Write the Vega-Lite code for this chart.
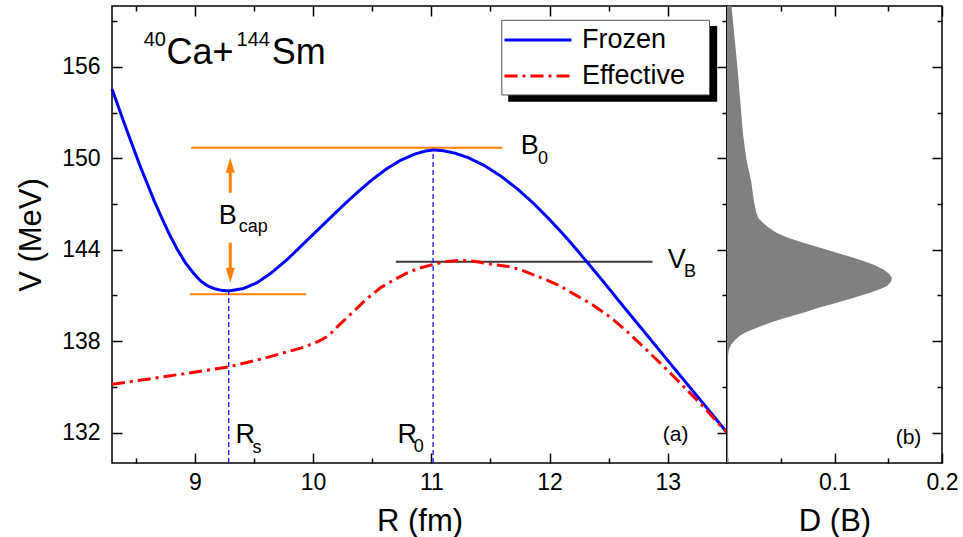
{
  "$schema": "https://vega.github.io/schema/vega-lite/v6.json",
  "background": "white",
  "padding": {"left": 14, "top": 2, "right": 5, "bottom": 5},
  "spacing": 0,
  "bounds": "flush",
  "config": {
    "font": "Liberation Sans",
    "view": {"stroke": "black", "strokeWidth": 1.5},
    "axis": {"domain": false, "grid": false, "minExtent": 0, "labelFont": "Liberation Sans", "labelFontSize": 23, "labelColor": "black", "titleFont": "Liberation Sans", "titleFontSize": 31, "titleFontWeight": "normal", "titleColor": "black", "tickColor": "black", "tickWidth": 1.5, "tickSize": 10, "offset": -10, "labelPadding": 12, "labelFlush": false, "labelOverlap": false, "labelBound": false},
    "text": {"font": "Liberation Sans"}
  },
  "datasets": {
    "curves": [
      {"series": "Frozen", "R": 8.30, "V": 154.55}, {"series": "Frozen", "R": 8.36, "V": 153.25}, {"series": "Frozen", "R": 8.42, "V": 151.95}, {"series": "Frozen", "R": 8.48, "V": 150.7}, {"series": "Frozen", "R": 8.54, "V": 149.45}, {"series": "Frozen", "R": 8.60, "V": 148.3}, {"series": "Frozen", "R": 8.66, "V": 147.15}, {"series": "Frozen", "R": 8.72, "V": 146.1}, {"series": "Frozen", "R": 8.78, "V": 145.1}, {"series": "Frozen", "R": 8.85, "V": 144.05}, {"series": "Frozen", "R": 8.92, "V": 143.15}, {"series": "Frozen", "R": 8.99, "V": 142.45}, {"series": "Frozen", "R": 9.05, "V": 141.95}, {"series": "Frozen", "R": 9.11, "V": 141.62}, {"series": "Frozen", "R": 9.17, "V": 141.43}, {"series": "Frozen", "R": 9.23, "V": 141.33}, {"series": "Frozen", "R": 9.29, "V": 141.3}, {"series": "Frozen", "R": 9.41, "V": 141.45}, {"series": "Frozen", "R": 9.53, "V": 141.85}, {"series": "Frozen", "R": 9.65, "V": 142.5}, {"series": "Frozen", "R": 9.78, "V": 143.35}, {"series": "Frozen", "R": 9.90, "V": 144.25}, {"series": "Frozen", "R": 10.02, "V": 145.15}, {"series": "Frozen", "R": 10.14, "V": 146.05}, {"series": "Frozen", "R": 10.26, "V": 146.95}, {"series": "Frozen", "R": 10.38, "V": 147.8}, {"series": "Frozen", "R": 10.50, "V": 148.6}, {"series": "Frozen", "R": 10.62, "V": 149.3}, {"series": "Frozen", "R": 10.74, "V": 149.87}, {"series": "Frozen", "R": 10.86, "V": 150.28}, {"series": "Frozen", "R": 10.95, "V": 150.48}, {"series": "Frozen", "R": 11.02, "V": 150.55}, {"series": "Frozen", "R": 11.10, "V": 150.5}, {"series": "Frozen", "R": 11.20, "V": 150.34}, {"series": "Frozen", "R": 11.31, "V": 150.05}, {"series": "Frozen", "R": 11.45, "V": 149.52}, {"series": "Frozen", "R": 11.59, "V": 148.82}, {"series": "Frozen", "R": 11.73, "V": 147.98}, {"series": "Frozen", "R": 11.87, "V": 147.0}, {"series": "Frozen", "R": 12.01, "V": 145.9}, {"series": "Frozen", "R": 12.15, "V": 144.72}, {"series": "Frozen", "R": 12.30, "V": 143.35}, {"series": "Frozen", "R": 12.45, "V": 141.95}, {"series": "Frozen", "R": 12.58, "V": 140.7}, {"series": "Frozen", "R": 12.72, "V": 139.37}, {"series": "Frozen", "R": 12.86, "V": 138.05}, {"series": "Frozen", "R": 13.00, "V": 136.72}, {"series": "Frozen", "R": 13.14, "V": 135.4}, {"series": "Frozen", "R": 13.30, "V": 133.9}, {"series": "Frozen", "R": 13.42, "V": 132.76}, {"series": "Frozen", "R": 13.50, "V": 132.0},
      {"series": "Effective", "R": 8.30, "V": 135.17}, {"series": "Effective", "R": 8.60, "V": 135.5}, {"series": "Effective", "R": 8.90, "V": 135.85}, {"series": "Effective", "R": 9.29, "V": 136.32}, {"series": "Effective", "R": 9.60, "V": 136.9}, {"series": "Effective", "R": 9.92, "V": 137.6}, {"series": "Effective", "R": 10.05, "V": 138.0}, {"series": "Effective", "R": 10.13, "V": 138.35}, {"series": "Effective", "R": 10.20, "V": 138.9}, {"series": "Effective", "R": 10.35, "V": 140.0}, {"series": "Effective", "R": 10.45, "V": 140.75}, {"series": "Effective", "R": 10.57, "V": 141.5}, {"series": "Effective", "R": 10.69, "V": 142.05}, {"series": "Effective", "R": 10.80, "V": 142.5}, {"series": "Effective", "R": 10.91, "V": 142.82}, {"series": "Effective", "R": 11.02, "V": 143.04}, {"series": "Effective", "R": 11.12, "V": 143.22}, {"series": "Effective", "R": 11.25, "V": 143.3}, {"series": "Effective", "R": 11.36, "V": 143.25}, {"series": "Effective", "R": 11.48, "V": 143.08}, {"series": "Effective", "R": 11.65, "V": 142.9}, {"series": "Effective", "R": 11.75, "V": 142.7}, {"series": "Effective", "R": 11.93, "V": 142.16}, {"series": "Effective", "R": 12.08, "V": 141.65}, {"series": "Effective", "R": 12.21, "V": 141.07}, {"series": "Effective", "R": 12.36, "V": 140.4}, {"series": "Effective", "R": 12.52, "V": 139.54}, {"series": "Effective", "R": 12.66, "V": 138.6}, {"series": "Effective", "R": 12.80, "V": 137.57}, {"series": "Effective", "R": 12.93, "V": 136.6}, {"series": "Effective", "R": 13.06, "V": 135.6}, {"series": "Effective", "R": 13.18, "V": 134.65}, {"series": "Effective", "R": 13.31, "V": 133.63}, {"series": "Effective", "R": 13.42, "V": 132.65}, {"series": "Effective", "R": 13.50, "V": 132.0}
    ],
    "db": [
      {"V": 130.0, "D": 0.001}, {"V": 137.0, "D": 0.001}, {"V": 137.4, "D": 0.0015}, {"V": 137.8, "D": 0.004}, {"V": 138.1, "D": 0.008}, {"V": 138.35, "D": 0.012}, {"V": 138.6, "D": 0.018}, {"V": 138.8, "D": 0.025}, {"V": 139.0, "D": 0.032}, {"V": 139.2, "D": 0.04}, {"V": 139.5, "D": 0.053}, {"V": 139.87, "D": 0.071}, {"V": 140.2, "D": 0.086}, {"V": 140.52, "D": 0.102}, {"V": 140.85, "D": 0.118}, {"V": 141.18, "D": 0.133}, {"V": 141.4, "D": 0.142}, {"V": 141.62, "D": 0.149}, {"V": 141.9, "D": 0.1525}, {"V": 142.15, "D": 0.1535}, {"V": 142.4, "D": 0.151}, {"V": 142.71, "D": 0.1455}, {"V": 143.0, "D": 0.137}, {"V": 143.26, "D": 0.127}, {"V": 143.55, "D": 0.114}, {"V": 143.8, "D": 0.102}, {"V": 144.15, "D": 0.086}, {"V": 144.46, "D": 0.071}, {"V": 144.8, "D": 0.056}, {"V": 145.12, "D": 0.046}, {"V": 145.45, "D": 0.039}, {"V": 145.78, "D": 0.033}, {"V": 146.1, "D": 0.029}, {"V": 146.5, "D": 0.027}, {"V": 147.2, "D": 0.025}, {"V": 148.5, "D": 0.0225}, {"V": 149.94, "D": 0.018}, {"V": 151.58, "D": 0.0149}, {"V": 156.0, "D": 0.0097}, {"V": 160.0, "D": 0.0042}
    ],
    "legendShadow": [{"R": 11.65, "R2": 13.417, "V": 153.72, "V2": 158.69}],
    "legendBox": [{"R": 11.596, "R2": 13.352, "V": 154.16, "V2": 159.06}],
    "capLines": [{"R": 8.97, "R2": 11.6, "V": 150.7}, {"R": 8.96, "R2": 9.94, "V": 141.07}],
    "vbLine": [{"R": 10.7, "R2": 12.87, "V": 143.21}],
    "drops": [{"R": 9.287, "V": 130.0, "V2": 141.3}, {"R": 11.015, "V": 130.0, "V2": 150.55}],
    "shafts": [{"R": 9.3, "V": 147.74, "V2": 149.55}, {"R": 9.3, "V": 142.33, "V2": 144.46}],
    "heads": [{"R": 9.3, "V": 149.55, "dir": "up"}, {"R": 9.3, "V": 142.33, "dir": "down"}],
    "bigLetters": [{"R": 9.203, "V": 145.67, "t": "B"}, {"R": 11.757, "V": 150.26, "t": "B"}, {"R": 12.999, "V": 142.82, "t": "V"}, {"R": 9.344, "V": 131.33, "t": "R"}, {"R": 10.713, "V": 131.33, "t": "R"}],
    "subLetters": [{"R": 9.372, "V": 145.16, "t": "cap"}, {"R": 11.901, "V": 149.63, "t": "0"}, {"R": 13.137, "V": 142.23, "t": "B"}, {"R": 9.488, "V": 130.68, "t": "s"}, {"R": 10.851, "V": 130.74, "t": "0"}],
    "panelA": [{"R": 12.957, "V": 131.44, "t": "(a)"}],
    "titleBig": [{"R": 8.76, "V": 156.17, "t": "Ca+"}, {"R": 9.65, "V": 156.17, "t": "Sm"}],
    "titleSup": [{"R": 8.568, "V": 157.37, "t": "40"}, {"R": 9.353, "V": 157.37, "t": "144"}],
    "panelB": [{"D": 0.1569, "V": 131.25, "t": "(b)"}]
  },
  "resolve": {"scale": {"x": "independent", "y": "independent", "color": "independent", "strokeDash": "independent", "shape": "independent"}},
  "hconcat": [
    {
      "width": 615,
      "height": 457,
      "encoding": {
        "x": {"field": "R", "type": "quantitative", "scale": {"domain": [8.3, 13.5], "nice": false, "zero": false}, "axis": null},
        "y": {"field": "V", "type": "quantitative", "scale": {"domain": [130, 160], "nice": false, "zero": false}, "axis": null}
      },
      "layer": [
        {"data": {"name": "legendShadow"}, "mark": {"type": "rect", "color": "black"}, "encoding": {"x2": {"field": "R2"}, "y2": {"field": "V2"}}},
        {"data": {"name": "legendBox"}, "mark": {"type": "rect", "fill": "white", "stroke": "#555555", "strokeWidth": 1}, "encoding": {"x2": {"field": "R2"}, "y2": {"field": "V2"}}},
        {"data": {"name": "capLines"}, "mark": {"type": "rule", "color": "#ff7f00", "strokeWidth": 2}, "encoding": {"x2": {"field": "R2"}}},
        {"data": {"name": "vbLine"}, "mark": {"type": "rule", "color": "#3a3a3a", "strokeWidth": 2}, "encoding": {"x2": {"field": "R2"}}},
        {"data": {"name": "drops"}, "mark": {"type": "rule", "color": "#0000ff", "strokeWidth": 1.2, "strokeDash": [5, 3]}, "encoding": {"y2": {"field": "V2"}}},
        {"data": {"name": "shafts"}, "mark": {"type": "rule", "color": "#ff7f00", "strokeWidth": 3}, "encoding": {"y2": {"field": "V2"}}},
        {"data": {"name": "heads"}, "mark": {"type": "point", "filled": true, "color": "#ff7f00", "size": 225, "opacity": 1}, "encoding": {"shape": {"field": "dir", "type": "nominal", "scale": {"domain": ["up", "down"], "range": ["M0,-1L0.6,1L-0.6,1Z", "M0,1L0.6,-1L-0.6,-1Z"]}, "legend": null}}},
        {
          "data": {"name": "curves"},
          "mark": {"type": "line", "strokeWidth": 3},
          "encoding": {
            "x": {"field": "R", "type": "quantitative", "scale": {"domain": [8.3, 13.5], "nice": false, "zero": false},
              "axis": {"orient": "bottom", "title": "R (fm)", "values": [9, 10, 11, 12, 13], "format": "d", "labelPadding": 8, "titlePadding": 12}},
            "y": {"field": "V", "type": "quantitative", "scale": {"domain": [130, 160], "nice": false, "zero": false},
              "axis": {"orient": "left", "title": "V (MeV)", "values": [132, 138, 144, 150, 156], "format": "d", "titlePadding": 14}},
            "color": {"field": "series", "type": "nominal", "scale": {"domain": ["Frozen", "Effective"], "range": ["#0000ff", "#ff0000"]},
              "legend": {"orient": "none", "legendX": 391, "legendY": 19, "title": null, "symbolType": "stroke", "symbolSize": 4489, "symbolStrokeWidth": 3, "clipHeight": 30, "rowPadding": 6, "padding": 0, "labelFontSize": 27, "labelFont": "Liberation Sans", "labelColor": "black", "labelOffset": 9, "labelLimit": 300}},
            "strokeDash": {"field": "series", "type": "nominal", "scale": {"domain": ["Frozen", "Effective"], "range": [[1, 0], [13, 5, 3, 5]]},
              "legend": {"orient": "none", "legendX": 391, "legendY": 19, "title": null, "symbolType": "stroke", "symbolSize": 4489, "symbolStrokeWidth": 3, "clipHeight": 30, "rowPadding": 6, "padding": 0, "labelFontSize": 27, "labelFont": "Liberation Sans", "labelColor": "black", "labelOffset": 9, "labelLimit": 300}}
          }
        },
        {"data": {"name": "bigLetters"}, "mark": {"type": "text", "fontSize": 27, "align": "left", "baseline": "alphabetic", "color": "black"}, "encoding": {"text": {"field": "t"}}},
        {"data": {"name": "subLetters"}, "mark": {"type": "text", "fontSize": 18, "align": "left", "baseline": "alphabetic", "color": "black"}, "encoding": {"text": {"field": "t"}}},
        {"data": {"name": "panelA"}, "mark": {"type": "text", "fontSize": 21, "align": "left", "baseline": "alphabetic", "color": "black"}, "encoding": {"text": {"field": "t"}}},
        {"data": {"name": "titleBig"}, "mark": {"type": "text", "fontSize": 36, "align": "left", "baseline": "alphabetic", "color": "black"}, "encoding": {"text": {"field": "t"}}},
        {"data": {"name": "titleSup"}, "mark": {"type": "text", "fontSize": 20, "align": "left", "baseline": "alphabetic", "color": "black"}, "encoding": {"text": {"field": "t"}}},
        {
          "data": {"name": "curves"},
          "mark": {"type": "point", "opacity": 0},
          "encoding": {
            "x": {"field": "R", "type": "quantitative", "scale": {"domain": [8.3, 13.5], "nice": false, "zero": false},
              "axis": {"orient": "top", "title": null, "labels": false, "values": [9, 10, 11, 12, 13]}},
            "y": {"field": "V", "type": "quantitative", "scale": {"domain": [130, 160], "nice": false, "zero": false},
              "axis": {"orient": "right", "title": null, "labels": false, "values": [132, 138, 144, 150, 156]}}
          }
        },
        {
          "data": {"name": "curves"},
          "mark": {"type": "point", "opacity": 0},
          "encoding": {
            "x": {"field": "R", "type": "quantitative", "scale": {"domain": [8.3, 13.5], "nice": false, "zero": false},
              "axis": {"orient": "bottom", "title": null, "labels": false, "tickSize": 5, "offset": -5, "values": [8.5, 9.5, 10.5, 11.5, 12.5, 13.5]}},
            "y": {"field": "V", "type": "quantitative", "scale": {"domain": [130, 160], "nice": false, "zero": false},
              "axis": {"orient": "left", "title": null, "labels": false, "tickSize": 5, "offset": -5, "values": [135, 141, 147, 153, 159]}}
          }
        },
        {
          "data": {"name": "curves"},
          "mark": {"type": "point", "opacity": 0},
          "encoding": {
            "x": {"field": "R", "type": "quantitative", "scale": {"domain": [8.3, 13.5], "nice": false, "zero": false},
              "axis": {"orient": "top", "title": null, "labels": false, "tickSize": 5, "offset": -5, "values": [8.5, 9.5, 10.5, 11.5, 12.5, 13.5]}},
            "y": {"field": "V", "type": "quantitative", "scale": {"domain": [130, 160], "nice": false, "zero": false},
              "axis": {"orient": "right", "title": null, "labels": false, "tickSize": 5, "offset": -5, "values": [135, 141, 147, 153, 159]}}
          }
        }
      ],
      "resolve": {"axis": {"x": "independent", "y": "independent"}}
    },
    {
      "width": 215,
      "height": 457,
      "encoding": {
        "x": {"field": "D", "type": "quantitative", "scale": {"domain": [0, 0.2], "nice": false, "zero": false}, "axis": null},
        "y": {"field": "V", "type": "quantitative", "scale": {"domain": [130, 160], "nice": false, "zero": false}, "axis": null}
      },
      "layer": [
        {
          "data": {"name": "db"},
          "mark": {"type": "area", "orient": "horizontal", "color": "#808080"},
          "encoding": {
            "x": {"field": "D", "type": "quantitative", "scale": {"domain": [0, 0.2], "nice": false, "zero": false},
              "axis": {"orient": "bottom", "title": "D (B)", "values": [0.1, 0.2], "format": ".1f", "labelPadding": 8, "titlePadding": 12}},
            "y": {"field": "V", "type": "quantitative", "scale": {"domain": [130, 160], "nice": false, "zero": false},
              "axis": {"orient": "right", "title": null, "labels": false, "values": [132, 138, 144, 150, 156]}}
          }
        },
        {"data": {"name": "panelB"}, "mark": {"type": "text", "fontSize": 21, "align": "left", "baseline": "alphabetic", "color": "black"}, "encoding": {"text": {"field": "t"}}},
        {
          "data": {"name": "db"},
          "mark": {"type": "point", "opacity": 0},
          "encoding": {
            "x": {"field": "D", "type": "quantitative", "scale": {"domain": [0, 0.2], "nice": false, "zero": false},
              "axis": {"orient": "top", "title": null, "labels": false, "values": [0.1, 0.2]}}
          }
        },
        {
          "data": {"name": "db"},
          "mark": {"type": "point", "opacity": 0},
          "encoding": {
            "x": {"field": "D", "type": "quantitative", "scale": {"domain": [0, 0.2], "nice": false, "zero": false},
              "axis": {"orient": "bottom", "title": null, "labels": false, "tickSize": 5, "offset": -5, "values": [0.05, 0.15]}},
            "y": {"field": "V", "type": "quantitative", "scale": {"domain": [130, 160], "nice": false, "zero": false},
              "axis": {"orient": "right", "title": null, "labels": false, "tickSize": 5, "offset": -5, "values": [135, 141, 147, 153, 159]}}
          }
        },
        {
          "data": {"name": "db"},
          "mark": {"type": "point", "opacity": 0},
          "encoding": {
            "x": {"field": "D", "type": "quantitative", "scale": {"domain": [0, 0.2], "nice": false, "zero": false},
              "axis": {"orient": "top", "title": null, "labels": false, "tickSize": 5, "offset": -5, "values": [0.05, 0.15]}}
          }
        }
      ],
      "resolve": {"axis": {"x": "independent", "y": "independent"}}
    }
  ]
}
